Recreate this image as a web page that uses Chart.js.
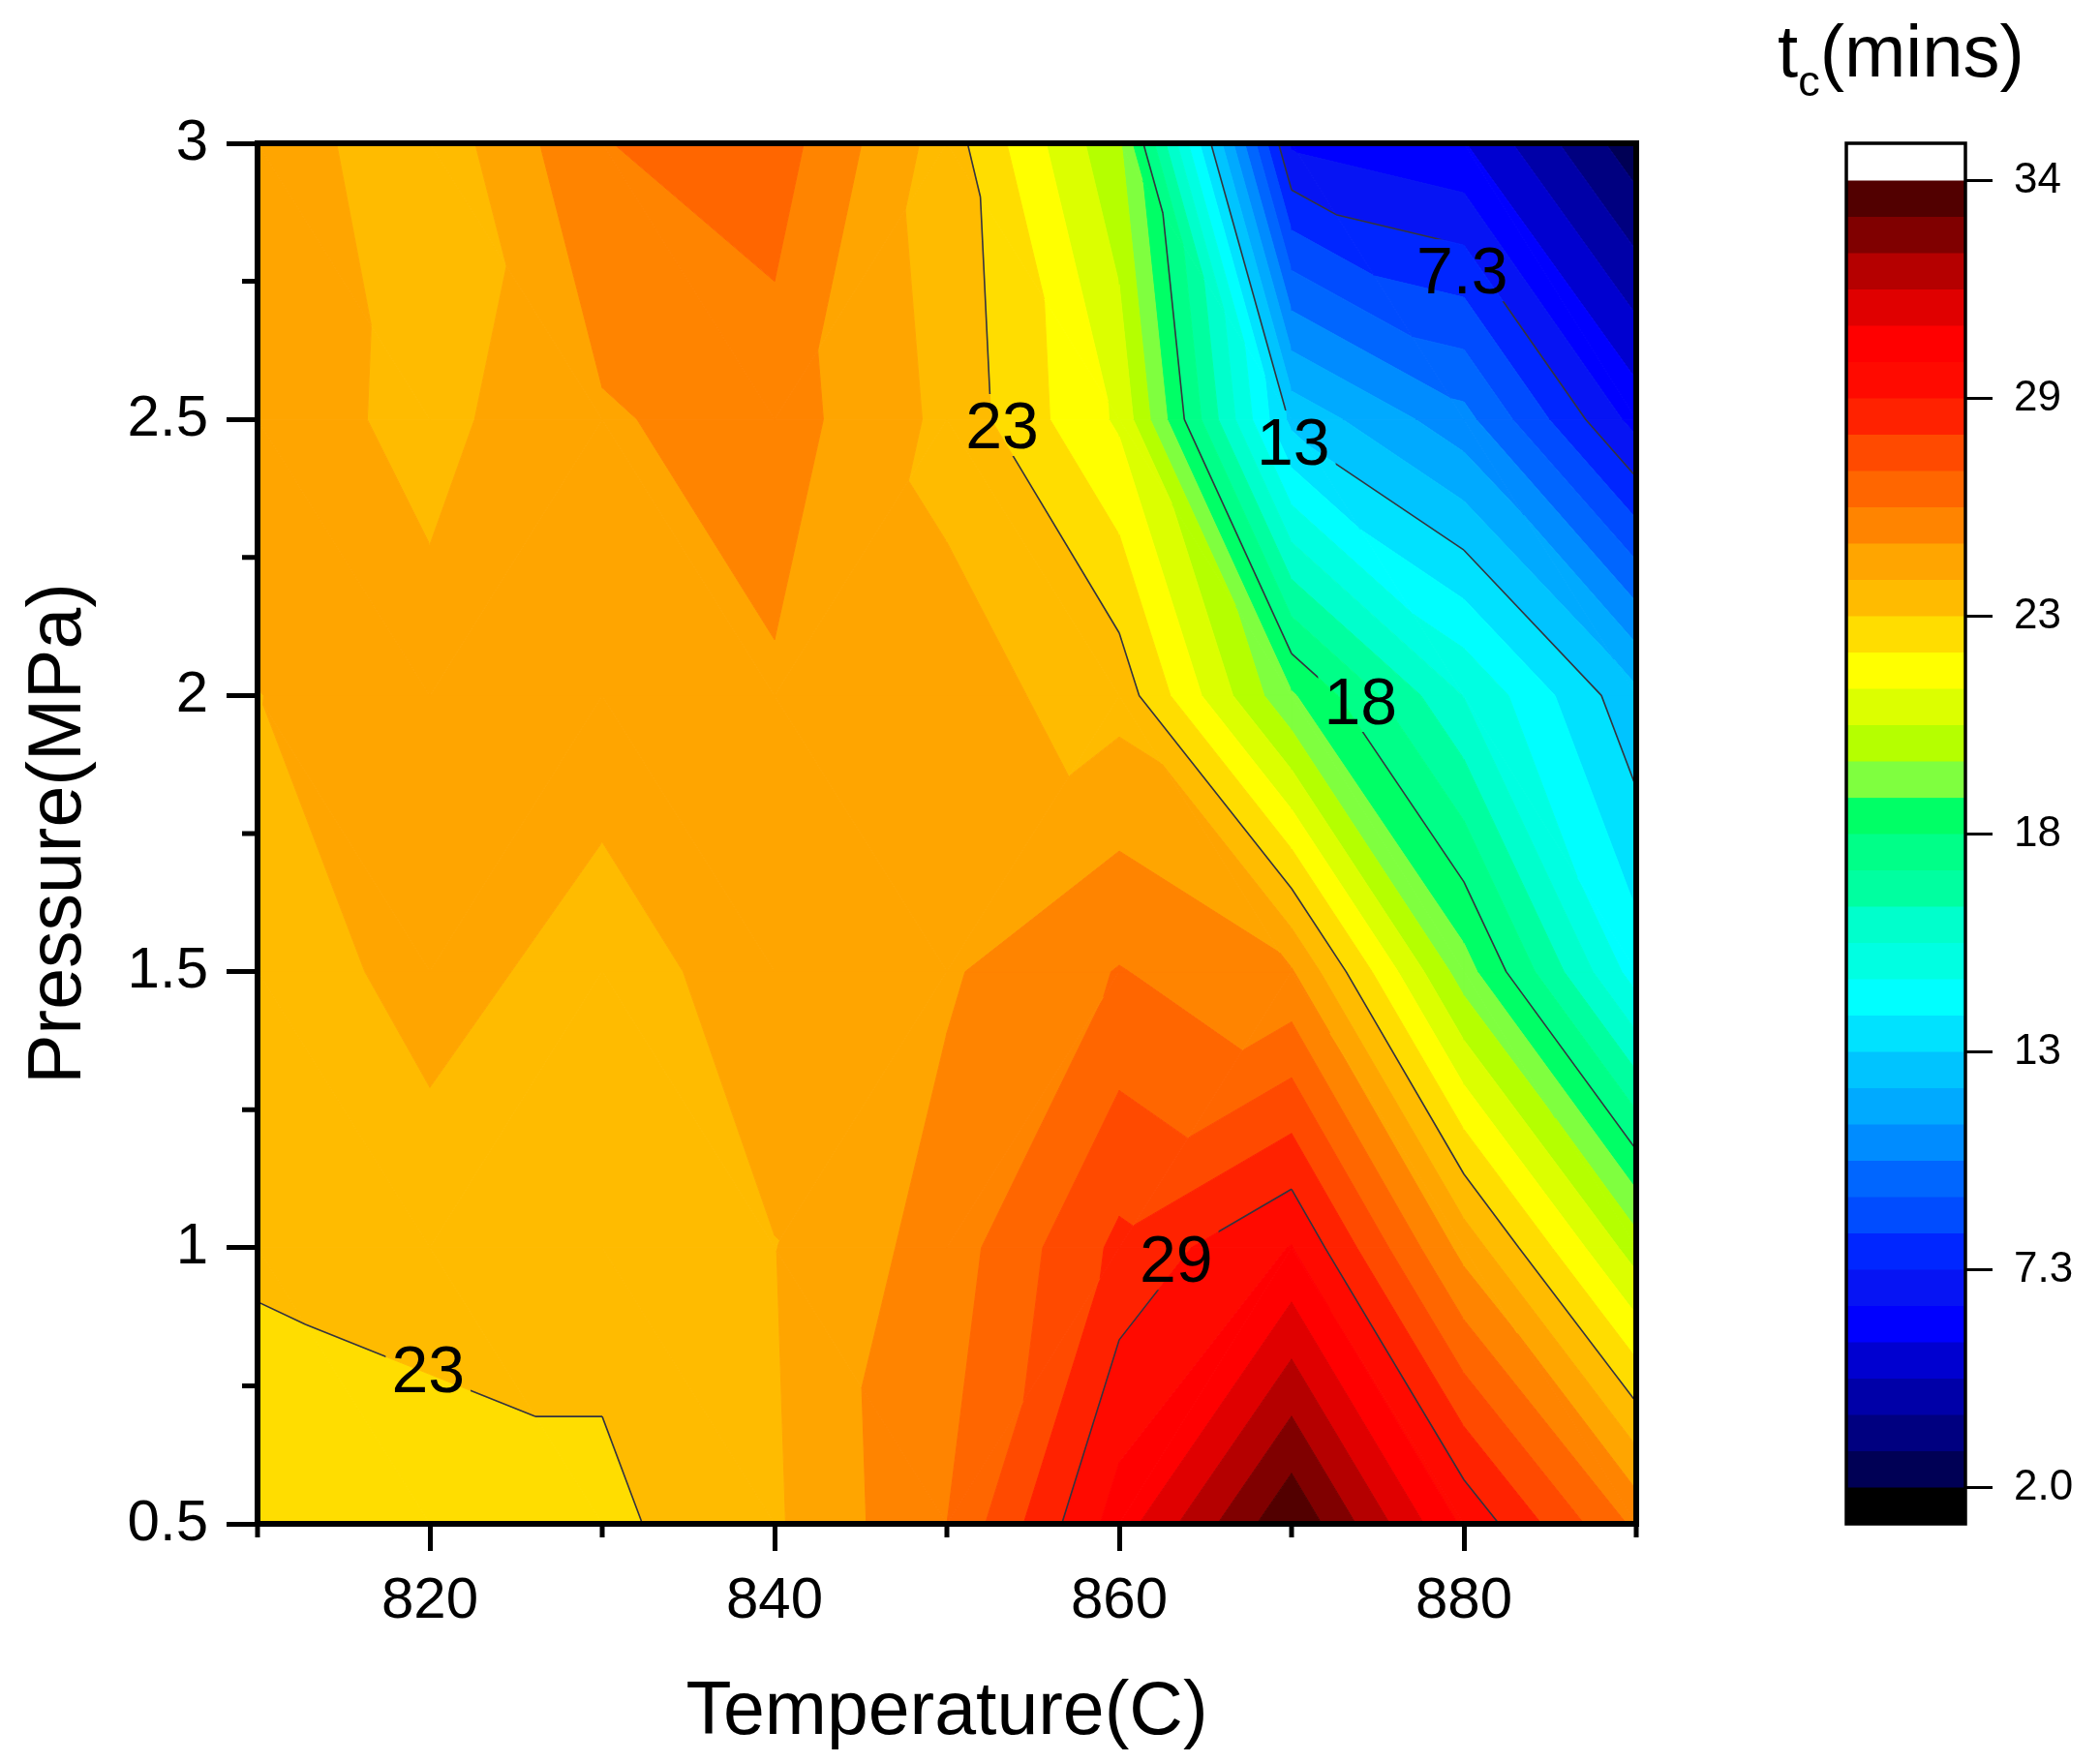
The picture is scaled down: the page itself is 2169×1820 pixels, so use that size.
<!DOCTYPE html>
<html>
<head>
<meta charset="utf-8">
<script src="https://cdn.jsdelivr.net/npm/chart.js@4.4.0/dist/chart.umd.min.js"></script>
<style>
  body { margin: 0; background: #fff; }
  #wrap { position: relative; width: 2169px; height: 1820px; overflow: hidden; }
  #main { position: absolute; left: 0; top: 0; }
  #bar { position: absolute; left: 1880px; top: 0; }
  #cbTitle { position: absolute; left: 1836px; top: 15px; font: 76px 'Liberation Sans', Arial, sans-serif; line-height: 1; color: #000; white-space: nowrap; }
  #cbTitle span { font-size: 45px; position: relative; top: 20px; }
</style>
</head>
<body>
<div id="wrap">
  <canvas id="main" width="1880" height="1820"></canvas>
  <canvas id="bar" width="289" height="1820"></canvas>
  <div id="cbTitle">t<span>c</span>(mins)</div>
</div>
<script>
// grid of the measurements
const temperatures = [810, 820, 830, 840, 850, 860, 870, 880, 890];
const pressures = [0.5, 1.0, 1.5, 2.0, 2.5, 3.0];

// tc (mins), one row per pressure
const tcAt0_5 = [22.65, 22.9, 23.1, 24.1, 26.0, 30.0, 33.9, 29.4, 25.8];
const tcAt1_0 = [23.5, 23.7, 23.7, 24.2, 25.5, 28.0, 29.6, 24.8, 20.2];
const tcAt1_5 = [23.6, 24.6, 23.8, 24.7, 25.0, 26.05, 25.2, 19.3, 14.0];
const tcAt2_0 = [24.21, 24.55, 24.7, 25.0, 24.5, 23.9, 19.0, 15.3, 12.0];
const tcAt2_5 = [24.7, 23.95, 25.0, 25.55, 24.0, 21.4, 12.4, 10.3, 6.1];
const tcAt3_0 = [24.75, 23.6, 25.97, 26.45, 23.8, 19.9, 6.3, 5.6, 2.3];
const tcRows = [tcAt0_5, tcAt1_0, tcAt1_5, tcAt2_0, tcAt2_5, tcAt3_0];

// how each grid cell is split into two triangles (u = "/" diagonal, d = "\" diagonal),
// one string per pressure interval, one letter per temperature interval
const cellDiagonals = [
  'dddduudd',
  'duduuudd',
  'dudduddd',
  'dududddd',
  'dddudddd'
];

// axes
const xTicks = [820, 840, 860, 880];
const xMinorTicks = [810, 830, 850, 870, 890];
const yTicks = [0.5, 1, 1.5, 2, 2.5, 3];
const yMinorTicks = [0.75, 1.25, 1.75, 2.25, 2.75];

// contour levels / colour scale
const levelLow = 2.0;
const levelHigh = 34.0;
const bandColors = [
  '#000055', '#000080', '#0000a8', '#0000d0', '#0000ff', '#0614f4', '#0026ff', '#004cff', '#0066ff', '#008cff',
  '#00aaff', '#00c4ff', '#00e2ff', '#00ffff', '#00ffe2', '#00ffcc', '#00ffa0', '#00ff88', '#00ff66', '#7fff3f',
  '#b5ff00', '#dcff00', '#ffff00', '#ffdd00', '#ffbb00', '#ffa500', '#ff8400', '#ff6600', '#ff4a00', '#ff2200',
  '#ff0a00', '#ff0000', '#e00000', '#b50000', '#800000', '#520000'
];
const belowColor = '#000000';
const aboveColor = '#ffffff';
const cbTickValues = [2.0, 7.3333, 12.6667, 18.0, 23.3333, 28.6667, 34.0];
const cbTickLabels = ['2.0', '7.3', '13', '18', '23', '29', '34'];
const lineLevels = [7.3333, 12.6667, 18.0, 23.3333, 28.6667];
const lineLabels = [
  { text: '7.3', t: 879.9, p: 2.77 },
  { text: '13', t: 870.1, p: 2.46 },
  { text: '18', t: 874.0, p: 1.99 },
  { text: '23', t: 853.2, p: 2.49 },
  { text: '29', t: 863.3, p: 0.98 },
  { text: '23', t: 819.9, p: 0.78 }
];

const fontFamily = "'Liberation Sans', Arial, sans-serif";
const bandStep = (levelHigh - levelLow) / bandColors.length;

function buildTriangles() {
  const tris = [];
  for (let j = 0; j < pressures.length - 1; j++) {
    for (let i = 0; i < temperatures.length - 1; i++) {
      const A = { t: temperatures[i], p: pressures[j], z: tcRows[j][i] };
      const B = { t: temperatures[i + 1], p: pressures[j], z: tcRows[j][i + 1] };
      const C = { t: temperatures[i + 1], p: pressures[j + 1], z: tcRows[j + 1][i + 1] };
      const D = { t: temperatures[i], p: pressures[j + 1], z: tcRows[j + 1][i] };
      if (cellDiagonals[j][i] === 'u') {
        tris.push([A, B, C]);
        tris.push([A, C, D]);
      } else {
        tris.push([A, B, D]);
        tris.push([B, C, D]);
      }
    }
  }
  return tris;
}

function clipPoly(poly, level, keepAbove) {
  const out = [];
  for (let i = 0; i < poly.length; i++) {
    const a = poly[i], b = poly[(i + 1) % poly.length];
    const ina = keepAbove ? a.z >= level : a.z <= level;
    const inb = keepAbove ? b.z >= level : b.z <= level;
    if (ina) out.push(a);
    if (ina !== inb) {
      const f = (level - a.z) / (b.z - a.z);
      out.push({ t: a.t + f * (b.t - a.t), p: a.p + f * (b.p - a.p), z: level });
    }
  }
  return out;
}

const contourPlugin = {
  id: 'contour',
  beforeDatasetsDraw(chart) {
    const { ctx, chartArea: a, scales: { x, y } } = chart;
    const tris = buildTriangles();
    ctx.save();
    ctx.beginPath();
    ctx.rect(a.left, a.top, a.right - a.left, a.bottom - a.top);
    ctx.clip();

    // filled bands
    for (const tri of tris) {
      for (let k = -1; k <= bandColors.length; k++) {
        const lo = k < 0 ? -Infinity : levelLow + k * bandStep;
        const hi = k >= bandColors.length ? Infinity : levelLow + (k + 1) * bandStep;
        let poly = clipPoly(tri, lo, true);
        poly = clipPoly(poly, hi, false);
        if (poly.length < 3) continue;
        const col = k < 0 ? belowColor : (k >= bandColors.length ? aboveColor : bandColors[k]);
        ctx.beginPath();
        poly.forEach((pt, i) => {
          const px = x.getPixelForValue(pt.t), py = y.getPixelForValue(pt.p);
          if (i) ctx.lineTo(px, py); else ctx.moveTo(px, py);
        });
        ctx.closePath();
        ctx.fillStyle = col;
        ctx.strokeStyle = col;
        ctx.lineWidth = 1;
        ctx.fill();
        ctx.stroke();
      }
    }

    // leave gaps where the labels go
    ctx.font = '68px ' + fontFamily;
    ctx.beginPath();
    ctx.rect(a.left, a.top, a.right - a.left, a.bottom - a.top);
    lineLabels.forEach(l => {
      const w = ctx.measureText(l.text).width;
      const px = x.getPixelForValue(l.t), py = y.getPixelForValue(l.p);
      ctx.rect(px - w / 2 - 6, py - 32, w + 12, 64);
    });
    ctx.clip('evenodd');

    // contour lines
    ctx.beginPath();
    for (const tri of tris) {
      for (const L of lineLevels) {
        const pts = [];
        for (let i = 0; i < 3; i++) {
          const p1 = tri[i], p2 = tri[(i + 1) % 3];
          if ((p1.z - L) * (p2.z - L) < 0) {
            const f = (L - p1.z) / (p2.z - p1.z);
            pts.push([x.getPixelForValue(p1.t + f * (p2.t - p1.t)), y.getPixelForValue(p1.p + f * (p2.p - p1.p))]);
          }
        }
        if (pts.length === 2) {
          ctx.moveTo(pts[0][0], pts[0][1]);
          ctx.lineTo(pts[1][0], pts[1][1]);
        }
      }
    }
    ctx.strokeStyle = '#34343f';
    ctx.lineWidth = 1.6;
    ctx.stroke();
    ctx.restore();

    // labels
    ctx.save();
    ctx.font = '68px ' + fontFamily;
    ctx.fillStyle = '#000';
    ctx.textAlign = 'center';
    ctx.textBaseline = 'alphabetic';
    lineLabels.forEach(l => {
      ctx.fillText(l.text, x.getPixelForValue(l.t), y.getPixelForValue(l.p) + 24);
    });
    ctx.restore();
  }
};

const framePlugin = {
  id: 'frame',
  afterDraw(chart) {
    const { ctx, chartArea: a, scales: { x, y } } = chart;
    ctx.save();
    ctx.strokeStyle = '#000';
    ctx.lineWidth = 5;
    ctx.beginPath();
    xMinorTicks.forEach(v => {
      const px = x.getPixelForValue(v);
      ctx.moveTo(px, a.bottom);
      ctx.lineTo(px, a.bottom + 14);
    });
    yMinorTicks.forEach(v => {
      const py = y.getPixelForValue(v);
      ctx.moveTo(a.left, py);
      ctx.lineTo(a.left - 16, py);
    });
    ctx.stroke();
    ctx.lineWidth = 6;
    ctx.strokeRect(a.left, a.top, a.right - a.left, a.bottom - a.top);
    ctx.restore();
  }
};

const gridPoints = [];
pressures.forEach((p, j) => temperatures.forEach((t, i) => gridPoints.push({ x: t, y: p, z: tcRows[j][i] })));

new Chart(document.getElementById('main'), {
  type: 'scatter',
  data: { datasets: [{ data: gridPoints, pointRadius: 0, showLine: false }] },
  options: {
    responsive: false,
    animation: false,
    events: [],
    layout: { padding: { top: 148, right: 190, bottom: 0, left: 0 } },
    plugins: { legend: { display: false }, tooltip: { enabled: false } },
    scales: {
      x: {
        type: 'linear', min: 810, max: 890, position: 'bottom',
        afterBuildTicks: s => { s.ticks = xTicks.map(v => ({ value: v })); },
        afterFit: s => { s.height = 246; },
        grid: { drawOnChartArea: false, tickLength: 28, tickWidth: 5, tickColor: '#000' },
        border: { display: false },
        ticks: { font: { family: fontFamily, size: 60 }, color: '#000', padding: 16, maxRotation: 0, autoSkip: false, callback: v => String(v) },
        title: { display: true, text: 'Temperature(C)', font: { family: fontFamily, size: 77 }, color: '#000', padding: { top: 0, bottom: 4 } }
      },
      y: {
        type: 'linear', min: 0.5, max: 3, position: 'left',
        afterBuildTicks: s => { s.ticks = yTicks.map(v => ({ value: v })); },
        afterFit: s => { s.width = 266; },
        grid: { drawOnChartArea: false, tickLength: 32, tickWidth: 5, tickColor: '#000' },
        border: { display: false },
        ticks: { font: { family: fontFamily, size: 60 }, color: '#000', padding: 19, autoSkip: false, callback: v => String(v) },
        title: { display: true, text: 'Pressure(MPa)', font: { family: fontFamily, size: 77 }, color: '#000', padding: { top: 16, bottom: 0 } }
      }
    }
  },
  plugins: [contourPlugin, framePlugin]
});

// colour scale
const cbDatasets = [{ data: [[1.12, levelLow]], backgroundColor: belowColor }];
bandColors.forEach((c, k) => {
  cbDatasets.push({ data: [[levelLow + k * bandStep, levelLow + (k + 1) * bandStep]], backgroundColor: c });
});
cbDatasets.push({ data: [[levelHigh, 34.92]], backgroundColor: aboveColor });
cbDatasets.forEach(d => Object.assign(d, { grouped: false, barPercentage: 1, categoryPercentage: 1, borderWidth: 0 }));

const cbFramePlugin = {
  id: 'cbFrame',
  afterDraw(chart) {
    const { ctx, chartArea: a } = chart;
    ctx.save();
    ctx.strokeStyle = '#000';
    ctx.lineWidth = 3.5;
    ctx.strokeRect(a.left, a.top, a.right - a.left, a.bottom - a.top);
    ctx.restore();
  }
};

new Chart(document.getElementById('bar'), {
  type: 'bar',
  data: { labels: [''], datasets: cbDatasets },
  options: {
    responsive: false,
    animation: false,
    events: [],
    layout: { padding: { top: 148, right: 0, bottom: 246, left: 27 } },
    plugins: { legend: { display: false }, tooltip: { enabled: false } },
    scales: {
      x: { display: false },
      y: {
        type: 'linear', min: 1.12, max: 34.92, position: 'right',
        afterBuildTicks: s => { s.ticks = cbTickValues.map(v => ({ value: v })); },
        afterFit: s => { s.width = 139; },
        grid: { drawOnChartArea: false, tickLength: 28, tickWidth: 3, tickColor: '#000' },
        border: { display: false },
        ticks: { font: { family: fontFamily, size: 44 }, color: '#000', padding: 22, autoSkip: false, callback: (v, i) => cbTickLabels[i] }
      }
    }
  },
  plugins: [cbFramePlugin]
});
</script>
</body>
</html>
